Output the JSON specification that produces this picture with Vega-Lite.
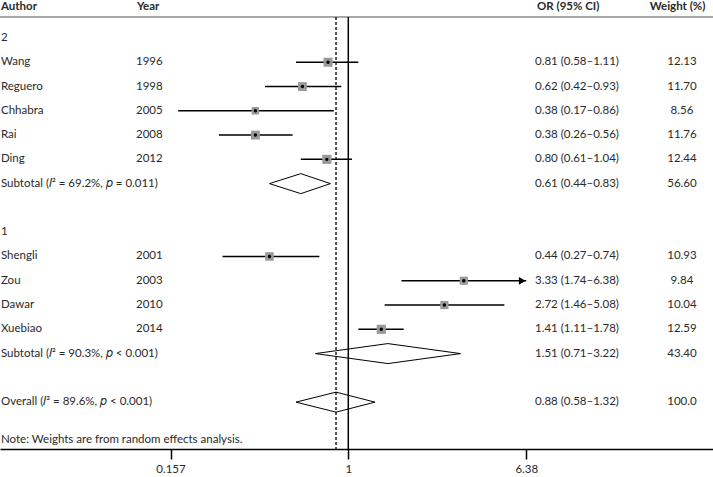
{
  "$schema": "https://vega.github.io/schema/vega-lite/v6.json",
  "width": 713,
  "height": 449,
  "autosize": {"type": "none"},
  "padding": {"left": 0, "right": 0, "top": 0, "bottom": 28},
  "background": "white",
  "config": {
    "view": {"stroke": null},
    "font": "Lato",
    "text": {"font": "Lato", "fontSize": 11.5, "color": "#2a2a2a", "baseline": "middle"}
  },
  "datasets": {
    "rows": [
      {"row": 0, "label": "2", "type": "group"},
      {"row": 1, "label": "Wang", "year": "1996", "or": 0.81, "lo": 0.58, "hi": 1.11, "ci": "0.81 (0.58–1.11)", "weight": 12.13, "wlabel": "12.13", "type": "study"},
      {"row": 2, "label": "Reguero", "year": "1998", "or": 0.62, "lo": 0.42, "hi": 0.93, "ci": "0.62 (0.42–0.93)", "weight": 11.70, "wlabel": "11.70", "type": "study"},
      {"row": 3, "label": "Chhabra", "year": "2005", "or": 0.38, "lo": 0.17, "hi": 0.86, "ci": "0.38 (0.17–0.86)", "weight": 8.56, "wlabel": "8.56", "type": "study"},
      {"row": 4, "label": "Rai", "year": "2008", "or": 0.38, "lo": 0.26, "hi": 0.56, "ci": "0.38 (0.26–0.56)", "weight": 11.76, "wlabel": "11.76", "type": "study"},
      {"row": 5, "label": "Ding", "year": "2012", "or": 0.80, "lo": 0.61, "hi": 1.04, "ci": "0.80 (0.61–1.04)", "weight": 12.44, "wlabel": "12.44", "type": "study"},
      {"row": 6, "label": "Subtotal (𝐼² = 69.2%, 𝑝 = 0.011)", "or": 0.61, "lo": 0.44, "hi": 0.83, "ci": "0.61 (0.44–0.83)", "weight": 56.60, "wlabel": "56.60", "type": "subtotal"},
      {"row": 8, "label": "1", "type": "group"},
      {"row": 9, "label": "Shengli", "year": "2001", "or": 0.44, "lo": 0.27, "hi": 0.74, "ci": "0.44 (0.27–0.74)", "weight": 10.93, "wlabel": "10.93", "type": "study"},
      {"row": 10, "label": "Zou", "year": "2003", "or": 3.33, "lo": 1.74, "hi": 6.38, "ci": "3.33 (1.74–6.38)", "weight": 9.84, "wlabel": "9.84", "type": "study"},
      {"row": 11, "label": "Dawar", "year": "2010", "or": 2.72, "lo": 1.46, "hi": 5.08, "ci": "2.72 (1.46–5.08)", "weight": 10.04, "wlabel": "10.04", "type": "study"},
      {"row": 12, "label": "Xuebiao", "year": "2014", "or": 1.41, "lo": 1.11, "hi": 1.78, "ci": "1.41 (1.11–1.78)", "weight": 12.59, "wlabel": "12.59", "type": "study"},
      {"row": 13, "label": "Subtotal (𝐼² = 90.3%, 𝑝 < 0.001)", "or": 1.51, "lo": 0.71, "hi": 3.22, "ci": "1.51 (0.71–3.22)", "weight": 43.40, "wlabel": "43.40", "type": "subtotal"},
      {"row": 15, "label": "Overall (𝐼² = 89.6%, 𝑝 < 0.001)", "or": 0.88, "lo": 0.58, "hi": 1.32, "ci": "0.88 (0.58–1.32)", "weight": 100.0, "wlabel": "100.0", "type": "overall"}
    ]
  },
  "layer": [
    {
      "data": {"values": [{}]},
      "mark": {"type": "rule", "color": "#8a8a8a", "strokeWidth": 1.5},
      "encoding": {
        "y": {"datum": -0.864, "type": "quantitative", "scale": {"domain": [-1.564, 16.93], "reverse": true, "nice": false, "zero": false}, "axis": null}
      }
    },
    {
      "data": {"values": [{}]},
      "mark": {"type": "rule", "color": "black", "strokeWidth": 1.5},
      "encoding": {
        "x": {"datum": 1, "type": "quantitative", "scale": {"type": "log", "domain": [0.02659, 44.62], "nice": false},
          "axis": {"values": [0.157, 1, 6.38], "format": "~g", "title": null, "grid": false, "domainColor": "black", "domainWidth": 1.5, "tickColor": "black", "tickWidth": 1.5, "tickSize": 10, "labelFontSize": 11.5, "labelFont": "Lato", "labelColor": "#2a2a2a", "labelPadding": 4, "labelFlush": false}},
        "y": {"datum": -0.864, "type": "quantitative", "scale": {"domain": [-1.564, 16.93], "reverse": true, "nice": false, "zero": false}, "axis": null},
        "y2": {"datum": 16.93}
      }
    },
    {
      "data": {"name": "rows"},
      "transform": [{"filter": "datum.type === 'overall'"}],
      "mark": {"type": "rule", "color": "black", "strokeWidth": 1.3, "strokeDash": [3, 2]},
      "encoding": {
        "x": {"field": "or", "type": "quantitative"},
        "y": {"datum": -0.864, "type": "quantitative"},
        "y2": {"datum": 16.93}
      }
    },
    {
      "data": {"name": "rows"},
      "transform": [{"filter": "datum.type === 'study'"}],
      "mark": {"type": "rule", "color": "black", "strokeWidth": 1.5},
      "encoding": {
        "x": {"field": "lo", "type": "quantitative"},
        "x2": {"field": "hi"},
        "y": {"field": "row", "type": "quantitative"}
      }
    },
    {
      "data": {"name": "rows"},
      "transform": [{"filter": "datum.type === 'study' && datum.hi >= 6.38"}],
      "mark": {"type": "point", "shape": "triangle-right", "filled": true, "color": "black", "size": 60, "xOffset": -4, "opacity": 1},
      "encoding": {
        "x": {"field": "hi", "type": "quantitative"},
        "y": {"field": "row", "type": "quantitative"}
      }
    },
    {
      "data": {"name": "rows"},
      "transform": [{"filter": "datum.type === 'study'"}],
      "mark": {"type": "square", "filled": true, "color": "#999999", "opacity": 1},
      "encoding": {
        "x": {"field": "or", "type": "quantitative"},
        "y": {"field": "row", "type": "quantitative"},
        "size": {"field": "weight", "type": "quantitative", "scale": {"domain": [0, 15], "range": [0, 100]}, "legend": null}
      }
    },
    {
      "data": {"name": "rows"},
      "transform": [{"filter": "datum.type === 'study'"}],
      "mark": {"type": "circle", "color": "black", "size": 12, "opacity": 1},
      "encoding": {
        "x": {"field": "or", "type": "quantitative"},
        "y": {"field": "row", "type": "quantitative"}
      }
    },
    {
      "data": {"name": "rows"},
      "transform": [{"filter": "datum.type === 'subtotal' || datum.type === 'overall'"}],
      "mark": {"type": "rule", "color": "black", "strokeWidth": 1, "y2Offset": -10},
      "encoding": {
        "x": {"field": "lo", "type": "quantitative"},
        "x2": {"field": "or"},
        "y": {"field": "row", "type": "quantitative"},
        "y2": {"field": "row"}
      }
    },
    {
      "data": {"name": "rows"},
      "transform": [{"filter": "datum.type === 'subtotal' || datum.type === 'overall'"}],
      "mark": {"type": "rule", "color": "black", "strokeWidth": 1, "y2Offset": 10},
      "encoding": {
        "x": {"field": "lo", "type": "quantitative"},
        "x2": {"field": "or"},
        "y": {"field": "row", "type": "quantitative"},
        "y2": {"field": "row"}
      }
    },
    {
      "data": {"name": "rows"},
      "transform": [{"filter": "datum.type === 'subtotal' || datum.type === 'overall'"}],
      "mark": {"type": "rule", "color": "black", "strokeWidth": 1, "yOffset": -10},
      "encoding": {
        "x": {"field": "or", "type": "quantitative"},
        "x2": {"field": "hi"},
        "y": {"field": "row", "type": "quantitative"},
        "y2": {"field": "row"}
      }
    },
    {
      "data": {"name": "rows"},
      "transform": [{"filter": "datum.type === 'subtotal' || datum.type === 'overall'"}],
      "mark": {"type": "rule", "color": "black", "strokeWidth": 1, "yOffset": 10},
      "encoding": {
        "x": {"field": "or", "type": "quantitative"},
        "x2": {"field": "hi"},
        "y": {"field": "row", "type": "quantitative"},
        "y2": {"field": "row"}
      }
    },
    {
      "data": {"name": "rows"},
      "mark": {"type": "text", "align": "left"},
      "encoding": {
        "x": {"datum": 0.02686, "type": "quantitative"},
        "y": {"field": "row", "type": "quantitative"},
        "text": {"field": "label"}
      }
    },
    {
      "data": {"name": "rows"},
      "transform": [{"filter": "datum.year != null"}],
      "mark": {"type": "text", "align": "left"},
      "encoding": {
        "x": {"datum": 0.1096, "type": "quantitative"},
        "y": {"field": "row", "type": "quantitative"},
        "text": {"field": "year"}
      }
    },
    {
      "data": {"name": "rows"},
      "transform": [{"filter": "datum.ci != null"}],
      "mark": {"type": "text", "align": "left"},
      "encoding": {
        "x": {"datum": 6.99, "type": "quantitative"},
        "y": {"field": "row", "type": "quantitative"},
        "text": {"field": "ci"}
      }
    },
    {
      "data": {"name": "rows"},
      "transform": [{"filter": "datum.wlabel != null"}],
      "mark": {"type": "text", "align": "center"},
      "encoding": {
        "x": {"datum": 32.3, "type": "quantitative"},
        "y": {"field": "row", "type": "quantitative"},
        "text": {"field": "wlabel"}
      }
    },
    {
      "data": {"values": [{"h": "Author"}]},
      "mark": {"type": "text", "align": "left", "fontWeight": "bold"},
      "encoding": {
        "x": {"datum": 0.02686, "type": "quantitative"},
        "y": {"datum": -1.276, "type": "quantitative"},
        "text": {"field": "h"}
      }
    },
    {
      "data": {"values": [{"h": "Year"}]},
      "mark": {"type": "text", "align": "left", "fontWeight": "bold"},
      "encoding": {
        "x": {"datum": 0.1107, "type": "quantitative"},
        "y": {"datum": -1.276, "type": "quantitative"},
        "text": {"field": "h"}
      }
    },
    {
      "data": {"values": [{"h": "OR (95% CI)"}]},
      "mark": {"type": "text", "align": "left", "fontWeight": "bold"},
      "encoding": {
        "x": {"datum": 7.14, "type": "quantitative"},
        "y": {"datum": -1.276, "type": "quantitative"},
        "text": {"field": "h"}
      }
    },
    {
      "data": {"values": [{"h": "Weight (%)"}]},
      "mark": {"type": "text", "align": "center", "fontWeight": "bold"},
      "encoding": {
        "x": {"datum": 30.83, "type": "quantitative"},
        "y": {"datum": -1.276, "type": "quantitative"},
        "text": {"field": "h"}
      }
    },
    {
      "data": {"values": [{"h": "Note: Weights are from random effects analysis."}]},
      "mark": {"type": "text", "align": "left"},
      "encoding": {
        "x": {"datum": 0.02686, "type": "quantitative"},
        "y": {"datum": 16.54, "type": "quantitative"},
        "text": {"field": "h"}
      }
    }
  ]
}
